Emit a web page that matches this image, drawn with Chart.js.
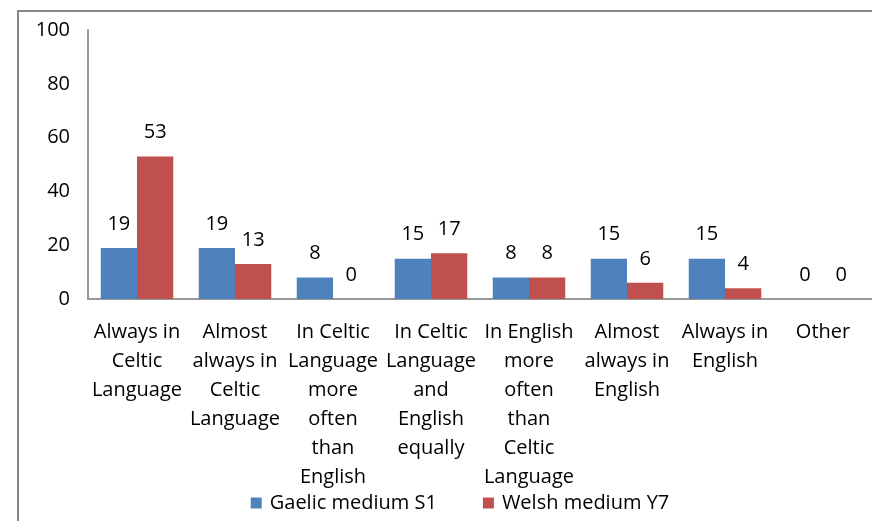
<!DOCTYPE html>
<html>
<head>
<meta charset="utf-8">
<script src="https://cdn.jsdelivr.net/npm/chart.js@4/dist/chart.umd.min.js"></script>
<style>
  html, body { margin: 0; padding: 0; background: #fff; overflow: hidden; width: 872px; height: 521px; }
  .frame { position: absolute; left: 17px; top: 10px; width: 900px; height: 560px; border: 2px solid #878787; }
  #chart { position: absolute; left: 0; top: 0; }
</style>
</head>
<body>
<div class="frame"></div>
<canvas id="chart" width="872" height="521"></canvas>
<script>
const categories = [
  ["Always in", "Celtic", "Language"],
  ["Almost", "always in", "Celtic", "Language"],
  ["In Celtic", "Language", "more", "often", "than", "English"],
  ["In Celtic", "Language", "and", "English", "equally"],
  ["In English", "more", "often", "than", "Celtic", "Language"],
  ["Almost", "always in", "English"],
  ["Always in", "English"],
  ["Other"]
];
const gaelicS1 = [19, 19, 8, 15, 8, 15, 15, 0];
const welshY7 = [53, 13, 0, 17, 8, 6, 4, 0];
const yTicks = [0, 20, 40, 60, 80, 100];

const FONT = "'Open Sans', 'DejaVu Sans', sans-serif";

// value labels above each bar
const valueLabels = {
  id: "valueLabels",
  afterDatasetsDraw(chart) {
    const ctx = chart.ctx;
    ctx.save();
    ctx.font = "20px " + FONT;
    ctx.fillStyle = "#000";
    ctx.textAlign = "center";
    ctx.textBaseline = "middle";
    chart.data.datasets.forEach((ds, i) => {
      chart.getDatasetMeta(i).data.forEach((bar, j) => {
        ctx.fillText(String(ds.data[j]), bar.x, bar.y - 24);
      });
    });
    ctx.restore();
  }
};

// legend row under the axis labels (Excel-style spacing)
const bottomLegend = {
  id: "bottomLegend",
  afterDraw(chart) {
    const ctx = chart.ctx;
    ctx.save();
    ctx.font = "20px " + FONT;
    ctx.textBaseline = "middle";
    ctx.textAlign = "left";
    const box = 11, gap = 8, spacing = 46, cy = 503, cx = 460;
    const items = chart.data.datasets.map(ds => ({ text: ds.label, color: ds.backgroundColor, w: ctx.measureText(ds.label).width }));
    const total = items.reduce((s, it) => s + box + gap + it.w, 0) + spacing * (items.length - 1);
    let x = cx - total / 2;
    items.forEach(it => {
      ctx.fillStyle = it.color;
      ctx.fillRect(x, cy - box / 2, box, box);
      ctx.fillStyle = "#000";
      ctx.fillText(it.text, x + box + gap, cy);
      x += box + gap + it.w + spacing;
    });
    ctx.restore();
  }
};

new Chart(document.getElementById("chart"), {
  type: "bar",
  data: {
    labels: categories,
    datasets: [
      { label: "Gaelic medium S1", data: gaelicS1, backgroundColor: "#4F81BD" },
      { label: "Welsh medium Y7", data: welshY7, backgroundColor: "#C0504D" }
    ]
  },
  options: {
    responsive: false,
    animation: false,
    layout: { padding: { top: 27, left: 0, right: 0, bottom: 0 } },
    datasets: { bar: { categoryPercentage: 0.74, barPercentage: 1.0 } },
    scales: {
      x: {
        grid: { display: false, drawTicks: false },
        border: { color: "#999", width: 2 },
        ticks: { color: "#000", font: { family: FONT, size: 20, lineHeight: 1.45 }, padding: 19, maxRotation: 0, autoSkip: false },
        afterFit(scale) { scale.height = 222; }
      },
      y: {
        min: 0, max: 100,
        afterBuildTicks(scale) { scale.ticks = yTicks.map(v => ({ value: v })); },
        grid: { display: false, drawTicks: false },
        border: { color: "#999", width: 2 },
        ticks: { color: "#000", font: { family: FONT, size: 20 }, padding: 18 },
        afterFit(scale) { scale.width = 88; }
      }
    },
    plugins: {
      tooltip: { enabled: false },
      legend: { display: false }
    }
  },
  plugins: [valueLabels, bottomLegend]
});
</script>
</body>
</html>
